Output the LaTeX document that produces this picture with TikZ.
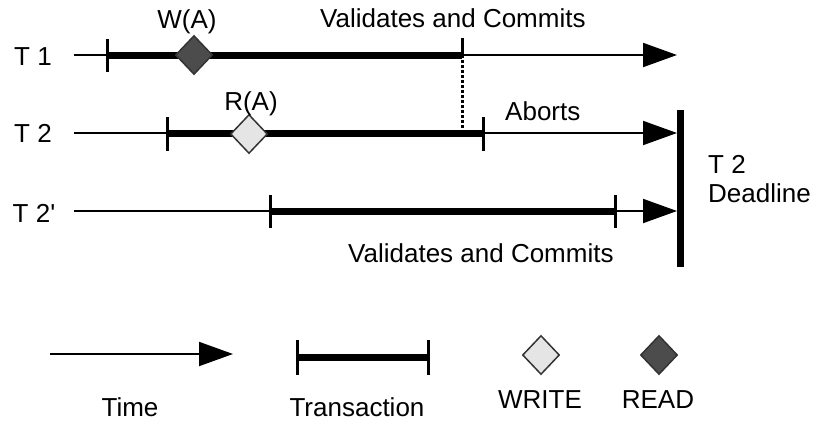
\documentclass[tikz,border=0pt]{standalone}
\usepackage{fontspec}
\setmainfont{Liberation Sans}
\usetikzlibrary{arrows.meta,shapes.geometric}
\begin{document}
\begin{tikzpicture}[x=1pt,y=-1pt,
  thinline/.style={line width=2pt,-{Triangle[length=34pt,width=24pt]}},
  thickline/.style={line width=7pt},
  tickmark/.style={line width=3pt},
  lbl/.style={font=\fontsize{26}{30}\selectfont,inner sep=0pt,anchor=base},
  lbll/.style={lbl,anchor=base west},
  dia/.style={shape=diamond,draw=black!80,line width=1.5pt,inner sep=0pt,minimum width=37pt,minimum height=39pt},
  rd/.style={dia,fill=black!70},
  wr/.style={dia,fill=black!10}]
\useasboundingbox (0,0) rectangle (815,421);
% ---- T1
\node[lbl] (l1) at (33,65) {T 1};
\coordinate (a1) at (74,55);
\coordinate (b1) at (677,55);
\coordinate (s1) at (107,55);
\coordinate (e1) at (462,55);
\draw[thinline] (a1) -- (b1);
\draw[thickline] (s1) -- (e1);
\draw[tickmark] (s1) ++(0,-16) -- ++(0,33);
\draw[tickmark] (e1) ++(0,-17) -- ++(0,17) coordinate (e1b);
\node[rd] (wa) at (194,55) {};
\node[lbl] (wal) at (187,28) {W(A)};
\node[lbll] (vc1) at (320,27) {Validates and Commits};
% ---- T2
\node[lbl] (l2) at (33,142) {T 2};
\coordinate (a2) at (74,133);
\coordinate (b2) at (677,133);
\coordinate (s2) at (167,133);
\coordinate (e2) at (483,133);
\coordinate (d2) at (462,130);
\draw[thinline] (a2) -- (b2);
\draw[thickline] (s2) -- (e2);
\draw[tickmark] (s2) ++(0,-16) -- ++(0,34);
\draw[tickmark] (e2) ++(0,-16) -- ++(0,34);
\draw[line width=3pt,dash pattern=on 3pt off 2pt] (e1b) -- (d2);
\node[wr] (ra) at (249,134) {};
\node[lbl] (ral) at (251,110) {R(A)};
\node[lbll] (ab) at (505,120) {Aborts};
% ---- T2'
\node[lbl] (l3) at (34,222) {T 2\textquotesingle};
\coordinate (a3) at (74,211);
\coordinate (b3) at (677,211);
\coordinate (s3) at (270,211);
\coordinate (e3) at (615,211);
\draw[thinline] (a3) -- (b3);
\draw[thickline] (s3) -- (e3);
\draw[tickmark] (s3) ++(0,-16) -- ++(0,33);
\draw[tickmark] (e3) ++(0,-16) -- ++(0,33);
\node[lbll] (vc2) at (348,262) {Validates and Commits};
% ---- deadline
\coordinate (dt) at (680,110);
\coordinate (db) at (680,267);
\draw[line width=7pt] (dt) -- (db);
\node[lbll] (dl1) at (708,173) {T 2};
\node[lbll] (dl2) at (708,202) {Deadline};
% ---- legend
\coordinate (ta) at (50,354);
\coordinate (tb) at (233,354);
\draw[thinline] (ta) -- (tb);
\node[lbl] (tl) at (130,416) {Time};
\coordinate (xa) at (297,357);
\coordinate (xb) at (428,357);
\draw[thickline] (xa) -- (xb);
\draw[tickmark] (xa) ++(0,-17) -- ++(0,35);
\draw[tickmark] (xb) ++(0,-17) -- ++(0,35);
\node[lbl] (xl) at (357,416) {Transaction};
\node[wr] (lw) at (541,355) {};
\node[lbl] (lwl) at (540,408) {WRITE};
\node[rd] (lr) at (659,355) {};
\node[lbl] (lrl) at (658,408) {READ};
\end{tikzpicture}
\end{document}
